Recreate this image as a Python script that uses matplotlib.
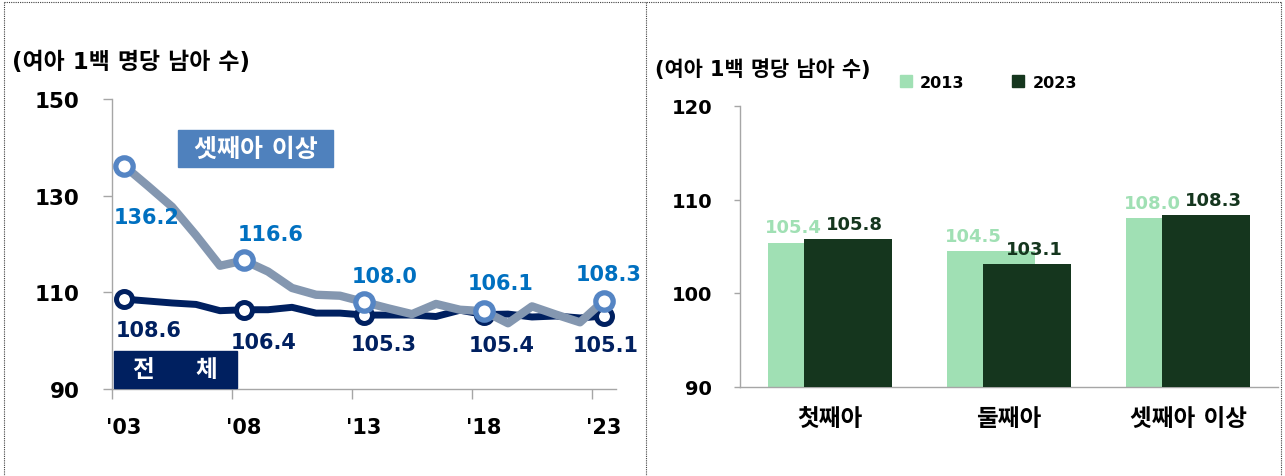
import matplotlib.pyplot as plt
from matplotlib.patches import Rectangle, Patch
from matplotlib.lines import Line2D

plt.rcParams['font.family'] = ['DejaVu Sans', 'Noto Sans CJK KR']
plt.rcParams['font.weight'] = 'bold'

# ---- data ----
years = list(range(2003, 2024))
third_plus = [136.2, 132.0, 127.7, 121.8, 115.5, 116.6, 114.3, 110.9, 109.5, 109.3,
              108.0, 106.7, 105.5, 107.6, 106.4, 106.1, 103.6, 107.1, 105.4, 103.8, 108.3]
total = [108.6, 108.2, 107.8, 107.5, 106.2, 106.4, 106.4, 106.9, 105.7, 105.7,
         105.3, 105.3, 105.3, 105.0, 106.3, 105.4, 105.5, 104.9, 105.1, 104.7, 105.1]
label_years = [2003, 2008, 2013, 2018, 2023]
year_ticks = ["'03", "'08", "'13", "'18", "'23"]

birth_order = ['첫째아', '둘째아', '셋째아 이상']
ratio_2013 = [105.4, 104.5, 108.0]
ratio_2023 = [105.8, 103.1, 108.3]

unit = '(여아 1백 명당 남아 수)'

W, H = 1285, 477
fig = plt.figure(figsize=(W / 100, H / 100), dpi=100)

def fx(px):
    return px / W

def fy(py):
    return 1 - py / H

# dotted frame
frame_kw = dict(color='#404040', lw=0.8, linestyle=(0, (1, 1)))
fig.add_artist(Line2D([fx(4), fx(1281)], [fy(3), fy(3)], **frame_kw))
fig.add_artist(Line2D([fx(4), fx(4)], [fy(3), 0], **frame_kw))
fig.add_artist(Line2D([fx(1281), fx(1281)], [fy(3), 0], **frame_kw))
fig.add_artist(Line2D([fx(646), fx(646)], [fy(3), 0], **frame_kw))

# ---- left: line chart ----
ax = fig.add_axes([fx(112), fy(390), fx(504), 290 / H])
gray_line = '#8497B0'
gray_mark = '#5585C4'
navy = '#002060'
blue_txt = '#0070C0'

ax.plot(years, total, color=navy, lw=5, solid_capstyle='round', zorder=2)
ax.plot(years, third_plus, color=gray_line, lw=6, solid_capstyle='round', zorder=4)

sel_total = [total[years.index(y)] for y in label_years]
sel_third = [third_plus[years.index(y)] for y in label_years]
ax.plot(label_years, sel_total, ls='none', marker='o', ms=11.5, mew=3.6,
        mfc='white', mec=navy, zorder=3)
ax.plot(label_years, sel_third, ls='none', marker='o', ms=12.5, mew=3.8,
        mfc='white', mec=gray_mark, zorder=5)

third_off = [(16, -37), (19, 19), (15, 19), (12, 20), (3, 19)]
total_off = [(18, -22), (14, -23), (14, -21), (13, -22), (1, -21)]
for x, v, off in zip(label_years, sel_third, third_off):
    ax.annotate(f'{v:.1f}', (x, v), xytext=off, textcoords='offset points',
                ha='center', va='center', fontsize=15, color=blue_txt, zorder=6)
for x, v, off in zip(label_years, sel_total, total_off):
    ax.annotate(f'{v:.1f}', (x, v), xytext=off, textcoords='offset points',
                ha='center', va='center', fontsize=15, color=navy, zorder=6)

ax.set_xlim(2002.5, 2023.5)
ax.set_ylim(90, 150)
ax.set_yticks([90, 110, 130, 150])
ax.set_xticks(label_years)
ax.set_xticklabels(year_ticks)
ax.set_xticks([y - 0.5 for y in label_years], minor=True)
ax.tick_params(axis='x', which='major', length=0, pad=20, labelsize=15)
ax.tick_params(axis='x', which='minor', length=7, width=1, color='#A6A6A6')
ax.tick_params(axis='y', length=6.5, width=1, color='#A6A6A6', pad=17, labelsize=15.5)
for s in ['top', 'right']:
    ax.spines[s].set_visible(False)
for s in ['left', 'bottom']:
    ax.spines[s].set_color('#A6A6A6')
    ax.spines[s].set_linewidth(1)

# series tags
ax.add_patch(Rectangle((2005.25, 136.0), 6.45, 7.5, color='#4F81BD', zorder=1, clip_on=False))
ax.text(2008.48, 139.75, '셋째아 이상', color='white', fontsize=18, ha='center', va='center', zorder=7)
ax.add_patch(Rectangle((2002.6, 90.2), 5.1, 7.7, color=navy, zorder=7, clip_on=False))
ax.text(2005.15, 94.05, '전     체', color='white', fontsize=17, ha='center', va='center', zorder=8)

fig.text(fx(12), fy(62), unit, fontsize=16.5, ha='left', va='center')

# ---- right: bar chart ----
bx = fig.add_axes([fx(740), fy(387.5), fx(538), 280.5 / H])
light = '#A0E0B4'
dark = '#15361E'
pos = list(range(len(birth_order)))
bx.bar([p - 0.1 for p in pos], ratio_2013, width=0.49, color=light, zorder=2)
bx.bar([p + 0.1 for p in pos], ratio_2023, width=0.49, color=dark, zorder=3)
for p, v in zip(pos, ratio_2013):
    bx.annotate(f'{v:.1f}', (p - 0.2, v), xytext=(0, 4.5), textcoords='offset points',
                ha='center', va='bottom', fontsize=13, color=light, zorder=4)
for p, v in zip(pos, ratio_2023):
    bx.annotate(f'{v:.1f}', (p + 0.14, v), xytext=(0, 4.5), textcoords='offset points',
                ha='center', va='bottom', fontsize=13, color=dark, zorder=4)

bx.set_xlim(-0.5, 2.5)
bx.set_ylim(90, 120)
bx.set_yticks([90, 100, 110, 120])
bx.set_xticks(pos)
bx.set_xticklabels(birth_order)
bx.tick_params(axis='x', length=0, pad=14, labelsize=17)
bx.tick_params(axis='y', length=4, width=1, color='#A6A6A6', pad=16, labelsize=14)
for s in ['top', 'right']:
    bx.spines[s].set_visible(False)
for s in ['left', 'bottom']:
    bx.spines[s].set_color('#A6A6A6')
    bx.spines[s].set_linewidth(1)

handles = [Patch(color=light, label='2013'), Patch(color=dark, label='2023')]
fig.legend(handles=handles, loc='center left', bbox_to_anchor=(fx(900), fy(83)),
           ncol=2, frameon=False, fontsize=11.5, handlelength=0.75, handleheight=0.75,
           handletextpad=0.5, columnspacing=3.0, borderpad=0, borderaxespad=0)

fig.text(fx(655), fy(70), unit, fontsize=15, ha='left', va='center')

fig.savefig('out.png', dpi=100)
